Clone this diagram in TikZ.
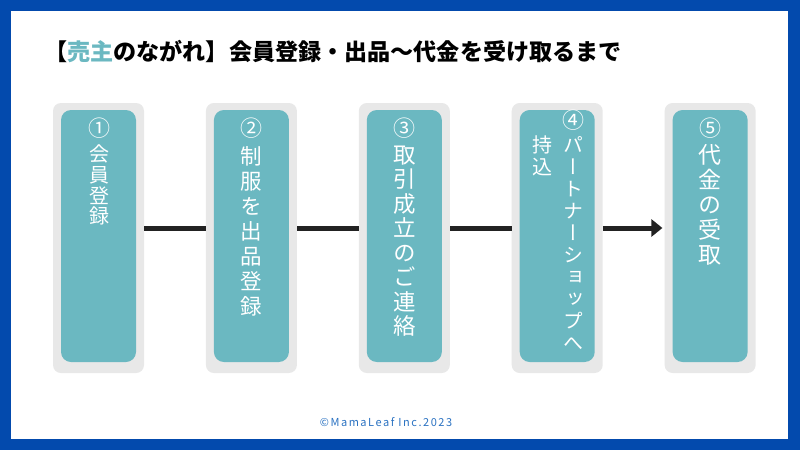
\documentclass[tikz,border=0pt]{standalone}
\usepackage{fontspec}
\setmainfont{Noto Sans CJK JP}
\newfontfamily\vertjp[RawFeature=+vert]{Noto Sans CJK JP}
\usetikzlibrary{arrows.meta,positioning}
\definecolor{frameblue}{HTML}{034AAD}
\definecolor{stepteal}{HTML}{6BB8C1}
\definecolor{padgray}{HTML}{E8E8E8}
\definecolor{linkdark}{HTML}{222222}
\definecolor{footblue}{HTML}{2A72C2}
\tikzset{
  pad/.style = {fill=padgray, rounded corners=8pt, minimum width=91pt, minimum height=270pt, inner sep=0pt},
  card/.style = {fill=stepteal, rounded corners=10pt, minimum width=75pt, minimum height=252pt, inner sep=0pt},
  num/.style = {text=white, font=\vertjp\fontsize{22}{22}\selectfont, inner sep=0pt},
  vchar/.style = {text=white, font=\vertjp\fontsize{#1}{#1}\selectfont, inner sep=0pt, anchor=base},
  link/.style = {draw=linkdark, line width=5pt}
}
\begin{document}
\begin{tikzpicture}[x=1pt, y=-1pt, node distance=61.5pt]
        \useasboundingbox (0,0) rectangle (800,450);
        \fill[frameblue] (0,0) rectangle (800,450);
        \fill[white] (11,11) rectangle (788,439);
        \node[anchor=west, inner sep=0pt, font=\bfseries\fontsize{23.1}{23.1}\selectfont] (title) at (44,52) {【\textcolor{stepteal}{売主}のながれ】会員登録・出品〜代金を受け取るまで};
        \node[pad] (o1) at (98.5,238) {};
        \node[pad, right=of o1] (o2) {};
        \node[pad, right=of o2] (o3) {};
        \node[pad, right=of o3] (o4) {};
        \node[pad, right=of o4] (o5) {};
        \node[card] (c1) at ([yshift=2pt]o1) {};
        \node[card] (c2) at ([yshift=2pt]o2) {};
        \node[card] (c3) at ([yshift=2pt]o3) {};
        \node[card] (c4) at ([yshift=2pt]o4) {};
        \node[card] (c5) at ([yshift=2pt]o5) {};
        \node[num] (n1) at ([xshift=1pt, yshift=-18pt]c1.north) {①};
        \node[num] (n2) at ([yshift=-18pt]c2.north) {②};
        \node[num] (n3) at ([yshift=-18pt]c3.north) {③};
        \node[num] (n4) at ([xshift=16pt, yshift=-10pt]c4.north) {④};
        \node[num] (n5) at ([yshift=-18pt]c5.north) {⑤};
        % vertical columns, one glyph per line
        \foreach \ch [count=\i] in {会,員,登,録}
          \node[vchar=20] (t1-\i) at ([xshift=1pt, yshift={-51.9pt-(\i-1)*20.7pt}]c1.north) {\ch};
        \foreach \ch [count=\i] in {制,服,を,出,品,登,録}
          \node[vchar=21.5] (t2-\i) at ([yshift={-54.9pt-(\i-1)*25pt}]c2.north) {\ch};
        \foreach \ch [count=\i] in {取,引,成,立,の,ご,連,絡}
          \node[vchar=22.5] (t3-\i) at ([yshift={-53.6pt-(\i-1)*24.5pt}]c3.north) {\ch};
        \foreach \ch [count=\i] in {パ,ー,ト,ナ,ー,シ,ョ,ッ,プ,へ}
          \node[vchar=20] (t4-\i) at ([xshift=16pt, yshift={-42.6pt-(\i-1)*22pt}]c4.north) {\ch};
        \foreach \ch [count=\i] in {持,込}
          \node[vchar=20] (u4-\i) at ([xshift=-15pt, yshift={-42.6pt-(\i-1)*22pt}]c4.north) {\ch};
        \foreach \ch [count=\i] in {代,金,の,受,取}
          \node[vchar=23] (t5-\i) at ([yshift={-53.7pt-(\i-1)*25pt}]c5.north) {\ch};
        \draw[link] ([yshift=10pt]o1.east) -- ([yshift=10pt]o2.west);
        \draw[link] ([yshift=10pt]o2.east) -- ([yshift=10pt]o3.west);
        \draw[link] ([yshift=10pt]o3.east) -- ([yshift=10pt]o4.west);
        \draw[link, -{Triangle[length=11pt, width=17pt]}] ([yshift=10pt]o4.east) -- ([xshift=-2pt, yshift=10pt]o5.west);
        \node[text=footblue, font=\fontsize{11}{11}\selectfont\addfontfeatures{LetterSpace=14}] (foot) at (386,422) {©MamaLeaf Inc.2023};
    \end{tikzpicture}
\end{document}
